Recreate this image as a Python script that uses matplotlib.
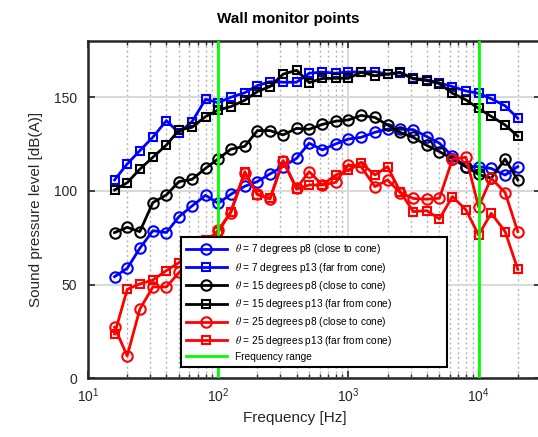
import matplotlib
matplotlib.use("Agg")
import matplotlib.pyplot as plt
from matplotlib.ticker import LogLocator, FixedLocator, NullFormatter

plt.rcParams['font.family'] = ['Liberation Sans', 'DejaVu Sans']
plt.rcParams['mathtext.fontset'] = 'stix'

freqs = [16, 20, 25, 31.5, 40, 50, 63, 80, 100, 125, 160, 200, 250, 315, 400, 500,
         630, 800, 1000, 1250, 1600, 2000, 2500, 3150, 4000, 5000, 6300, 8000,
         10000, 12500, 16000, 20000]

blue_p8 = [54.3, 58.7, 69.4, 78.8, 77.8, 86.3, 92.0, 97.7, 93.4, 98.2, 102.5, 105.0,
           109.1, 113.0, 117.4, 125.5, 121.9, 125.1, 127.7, 128.6, 131.3, 133.0,
           132.9, 132.7, 129.0, 125.5, 118.5, 113.0, 113.0, 112.0, 108.5, 113.0]
blue_p13 = [105.9, 114.4, 121.5, 128.7, 137.5, 131.0, 137.0, 148.9, 147.1, 150.0,
            152.4, 156.2, 158.3, 158.0, 158.0, 162.8, 163.4, 162.8, 163.5, 163.4,
            163.7, 162.3, 163.0, 160.1, 159.3, 157.6, 155.7, 153.3, 152.1, 149.2,
            145.4, 138.8]
black_p8 = [77.8, 80.6, 78.3, 93.8, 97.9, 105.0, 106.2, 112.1, 117.1, 122.3, 123.8,
            132.2, 132.2, 129.9, 133.4, 132.9, 135.5, 137.2, 137.9, 140.3, 139.2,
            135.2, 131.2, 128.6, 124.3, 121.0, 117.2, 113.0, 108.8, 106.8, 117.0,
            105.8]
black_p13 = [100.5, 104.4, 111.6, 118.0, 124.5, 132.5, 134.0, 139.7, 143.2, 145.0,
             148.4, 153.0, 155.7, 162.3, 164.4, 157.8, 160.0, 160.1, 160.1, 163.3,
             161.5, 162.3, 163.3, 159.8, 158.9, 157.3, 152.1, 148.6, 144.0, 139.8,
             135.2, 129.2]
red_p8 = [27.3, 12.0, 36.9, 48.8, 48.8, 56.5, 63.0, 71.0, 79.2, 88.4, 109.6, 98.4,
          95.7, 116.2, 101.5, 110.3, 103.2, 104.6, 114.0, 113.0, 102.3, 105.9, 99.1,
          96.0, 95.6, 96.1, 116.9, 118.0, 91.6, 106.8, 99.1, 78.3]
red_p13 = [23.7, 47.5, 50.4, 52.5, 57.5, 61.8, 67.0, 74.0, 78.0, 89.0, 110.3, 98.0,
           96.0, 116.0, 100.9, 103.2, 103.2, 108.5, 111.2, 115.1, 108.5, 113.0, 99.6,
           89.0, 89.5, 85.1, 97.0, 89.9, 76.5, 88.1, 78.3, 58.2]

freq_range = [100, 10000]

series = [
    (blue_p8, 'blue', 'o', r'$\theta$ = 7 degrees p8 (close to cone)'),
    (blue_p13, 'blue', 's', r'$\theta$ = 7 degrees p13 (far from cone)'),
    (black_p8, 'black', 'o', r'$\theta$ = 15 degrees p8 (close to cone)'),
    (black_p13, 'black', 's', r'$\theta$ = 15 degrees p13 (far from cone)'),
    (red_p8, 'red', 'o', r'$\theta$ = 25 degrees p8 (close to cone)'),
    (red_p13, 'red', 's', r'$\theta$ = 25 degrees p13 (far from cone)'),
]

W, H = 538, 437
fig = plt.figure(figsize=(W / 100, H / 100), dpi=100)
left_px, right_px, top_px, bottom_px = 88, 540.7, 41, 378.4
ax = fig.add_axes([left_px / W, (H - bottom_px) / H,
                   (right_px - left_px) / W, (bottom_px - top_px) / H])

for vals, col, mk, lab in series:
    ms = 7.5 if mk == 'o' else 5.8
    ax.plot(freqs, vals, color=col, marker=mk, markersize=ms, markerfacecolor='none',
            markeredgewidth=1.5, linewidth=2.0, label=lab, zorder=3)

for i, f in enumerate(freq_range):
    ax.axvline(f, color=(0, 1, 0), linewidth=2.0, zorder=4,
               label='Frequency range' if i == 0 else None)

ax.set_xscale('log')
ax.set_xlim(10, 3e4)
ax.set_ylim(0, 180)
ax.set_yticks([0, 50, 100, 150])
ax.xaxis.set_major_locator(FixedLocator([10, 100, 1000, 10000]))
ax.xaxis.set_minor_locator(LogLocator(base=10, subs=range(2, 10), numticks=20))
ax.xaxis.set_minor_formatter(NullFormatter())

ax.grid(True, which='major', axis='both', color='#d9d9d9', linewidth=1.5, linestyle='-', zorder=0)
ax.grid(True, which='minor', axis='x', color='#b5b5b5', linewidth=1.0, linestyle=(0, (1.5, 2)), zorder=0)
ax.set_axisbelow(True)

for s in ax.spines.values():
    s.set_linewidth(1.8)
    s.set_color('#262626')
ax.tick_params(which='both', direction='in', top=True, right=True, color='#262626',
               labelsize=10, labelcolor='#262626')
ax.tick_params(which='major', length=5, width=1.2)
ax.tick_params(axis='y', which='major', pad=8)
ax.tick_params(axis='x', which='major', pad=6)
ax.tick_params(which='minor', length=3, width=1.0)

fig.text(295 / W, 1 - 418 / H, 'Frequency [Hz]', fontsize=11, color='#262626',
         ha='center', va='center')
ax.set_ylabel('Sound pressure level [dB(A)]', fontsize=11, color='#262626', labelpad=8)
fig.text(288 / W, 1 - 19 / H, 'Wall monitor points', fontsize=11, fontweight='bold',
         ha='center', va='center')

axw = right_px - left_px
axh = bottom_px - top_px
leg_x0, leg_x1, leg_top, leg_bot = 181, 447, 236, 367
leg = ax.legend(loc='lower left',
                bbox_to_anchor=((leg_x0 - left_px) / axw, (bottom_px - leg_bot) / axh,
                                (leg_x1 - leg_x0) / axw, (leg_bot - leg_top) / axh),
                mode='expand', fontsize=7.3, handlelength=4.0, labelspacing=0.42,
                borderpad=0.5, fancybox=False, framealpha=1, edgecolor='black',
                borderaxespad=0)
leg.get_frame().set_linewidth(1.5)
leg.set_zorder(10)

fig.savefig('out.png', dpi=100)
